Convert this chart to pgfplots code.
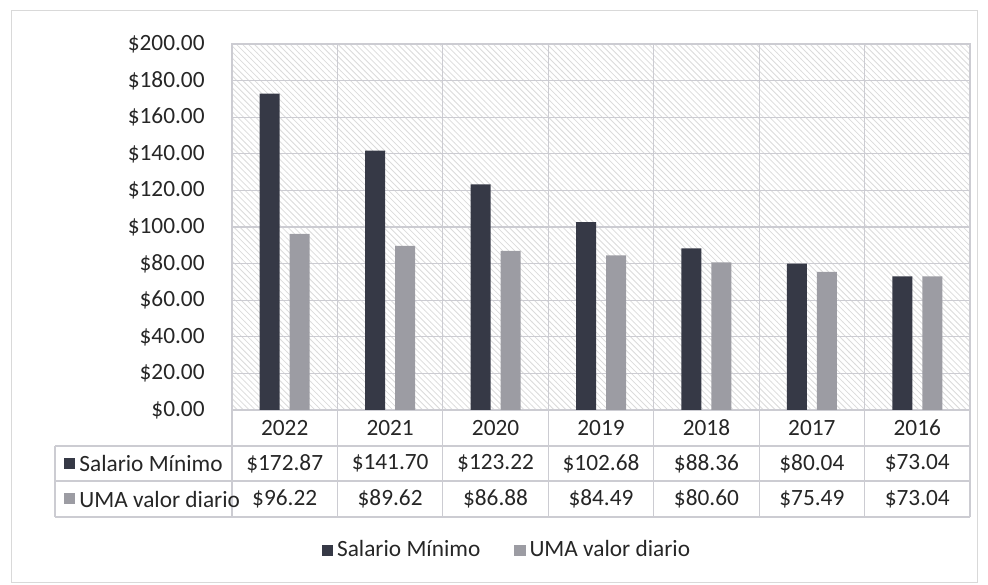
\documentclass[border=0pt]{standalone}
\usepackage{pgfplots}
\pgfplotsset{compat=1.18}
\usepackage{fontspec}
\setmainfont{Carlito}
\usetikzlibrary{patterns}
\definecolor{darkbar}{HTML}{363946}
\definecolor{lightbar}{HTML}{9C9CA3}
\definecolor{txt}{HTML}{262626}
\definecolor{gridc}{HTML}{CCCCD2}
\begin{document}
\begin{tikzpicture}[x=0.5bp,y=0.5bp]
\path (0,0) rectangle (988,585);
\draw[gray!30] (11,575) rectangle (977,3);
\begin{axis}[at={(116bp,87.5bp)}, anchor=south west, scale only axis,
  width=369bp, height=183bp,
  xmin=0, xmax=7, ymin=0, ymax=200,
  xtick={0,...,7}, xticklabels={},
  ytick={0,20,...,200},
  yticklabels={\$0.00,\$20.00,\$40.00,\$60.00,\$80.00,\$100.00,\$120.00,\$140.00,\$160.00,\$180.00,\$200.00},
  grid=major, grid style={gridc, line width=0.6pt},
  axis line style={gridc, line width=0.6pt}, major tick length=0pt,
  axis background/.style={pattern=north west lines, pattern color=gray!28},
  ybar, bar width=10bp,
  tick label style={font=\fontsize{11.7}{14}\selectfont, text=txt},
  yticklabel style={anchor=east, inner sep=0pt, xshift=-13.5bp},
  legend style={draw=none, fill=none, at={(0.374,-0.383)}, anchor=center,
    font=\fontsize{11.7}{14}\selectfont, text=txt, legend columns=2,
    /tikz/every even column/.append style={column sep=15bp}},
  ]
\addplot[fill=darkbar, draw=none, bar shift=-7.5bp,
  legend image code/.code={\fill[darkbar] (0bp,-2.8bp) rectangle (5.6bp,2.8bp);}]
  coordinates {(0.5,172.87) (1.5,141.70) (2.5,123.22) (3.5,102.68) (4.5,88.36) (5.5,80.04) (6.5,73.04)};
\addplot[fill=lightbar, draw=none, bar shift=7.5bp,
  legend image code/.code={\fill[lightbar] (0bp,-2.8bp) rectangle (5.6bp,2.8bp);}]
  coordinates {(0.5,96.22) (1.5,89.62) (2.5,86.88) (3.5,84.49) (4.5,80.60) (5.5,75.49) (6.5,73.04)};
\legend{Salario Mínimo, UMA valor diario}
\end{axis}
% data table
\begin{scope}[every node/.style={font=\fontsize{11.7}{14}\selectfont, text=txt}]
\foreach \k in {0,...,7} {
  \draw[gridc, line width=0.6pt] ({232+\k*105.43},175) -- ({232+\k*105.43},68);
}
\draw[gridc, line width=0.6pt] (55,139) -- (970,139);
\draw[gridc, line width=0.6pt] (55,104) -- (970,104);
\draw[gridc, line width=0.6pt] (55,68) -- (970,68);
\draw[gridc, line width=0.6pt] (55,139) -- (55,68);
\foreach \y [count=\i from 0] in {2022,2021,2020,2019,2018,2017,2016} {
  \node at ({232+52.71+\i*105.43},157) {\y};
}
\foreach \v [count=\i from 0] in {172.87,141.70,123.22,102.68,88.36,80.04,73.04} {
  \node at ({232+52.71+\i*105.43},121.5) {\$\v};
}
\foreach \v [count=\i from 0] in {96.22,89.62,86.88,84.49,80.60,75.49,73.04} {
  \node at ({232+52.71+\i*105.43},86) {\$\v};
}
\fill[darkbar] (64,116) rectangle (75,127);
\node[anchor=west, inner sep=0pt] at (79,121.5) {Salario Mínimo};
\fill[lightbar] (64,80.5) rectangle (75,91.5);
\node[anchor=west, inner sep=0pt] at (79,86) {UMA valor diario};
\end{scope}
\end{tikzpicture}
\end{document}
